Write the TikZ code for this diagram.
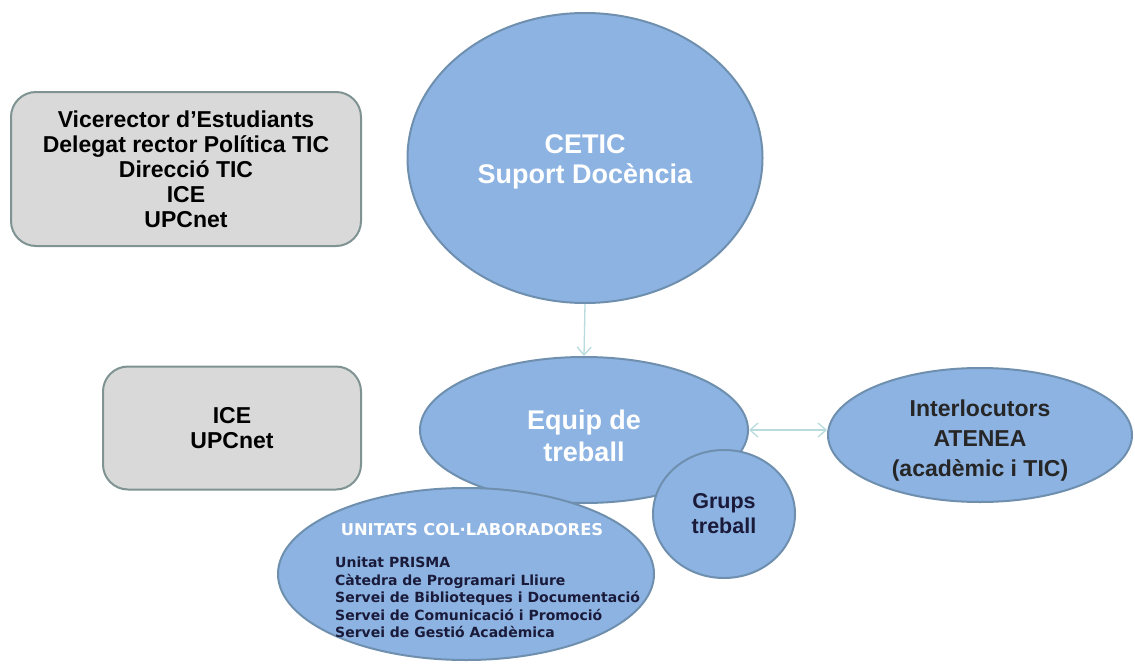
\documentclass[tikz,border=0pt]{standalone}
\usepackage{fontspec}
\setmainfont{Liberation Sans}
\newfontfamily\verd{DejaVu Sans}
\usetikzlibrary{shapes.geometric,arrows.meta}
\definecolor{bfill}{HTML}{8DB3E2}
\definecolor{bline}{HTML}{6F8FAF}
\definecolor{gfill}{HTML}{D9D9D9}
\definecolor{gline}{HTML}{7F9393}
\definecolor{arr}{HTML}{B8DCDE}
\definecolor{navy}{HTML}{1A1A3A}
\tikzset{
  x=1pt,y=-1pt,
  blob/.style={ellipse,draw=bline,line width=2pt,fill=bfill,inner sep=0pt,align=center,font=\bfseries},
  gbox/.style={rectangle,rounded corners=25pt,draw=gline,line width=2pt,fill=gfill,inner sep=0pt,align=center,font=\bfseries\fontsize{23}{25}\selectfont},
  conn/.style={draw=arr,line width=1.3pt},
}
\begin{document}
\begin{tikzpicture}
\useasboundingbox (0,0) rectangle (1135,669);
\fill[white] (0,0) rectangle (1135,669);
\node[gbox,minimum width=350pt,minimum height=154pt] (box1) at (186,169)
  {Vicerector d’Estudiants\\Delegat rector Política TIC\\Direcció TIC\\ICE\\UPCnet};
\node[gbox,minimum width=258pt,minimum height=123pt] (box2) at (232,428)
  {ICE\\UPCnet};
\node[blob,minimum width=355pt,minimum height=290pt,text=white,font=\bfseries\fontsize{27}{30}\selectfont] (cetic) at (585,158)
  {\rule{0pt}{26pt}CETIC\\Suport Docència};
\node[blob,minimum width=328pt,minimum height=146pt,text=white,font=\bfseries\fontsize{27}{32}\selectfont] (equip) at (584,430)
  {\rule{0pt}{32pt}Equip de\\treball};
\node[blob,minimum width=376pt,minimum height=172pt] (unitats) at (466,574) {};
\node[font=\verd\bfseries\fontsize{16.3}{18}\selectfont,text=white] (utitle) at (472,530) {UNITATS COL·LABORADORES};
\node[font=\verd\bfseries\fontsize{14}{17.5}\selectfont,text=navy,align=left,anchor=north west,inner sep=0pt] (ulist) at (335,557)
  {Unitat PRISMA\\Càtedra de Programari Lliure\\Servei de Biblioteques i Documentació\\Servei de Comunicació i Promoció\\Servei de Gestió Acadèmica};
\node[blob,minimum width=142pt,minimum height=128pt,text=navy,font=\bfseries\fontsize{21.5}{25}\selectfont] (grups) at (724,514)
  {Grups\\treball};
\node[blob,minimum width=304pt,minimum height=134pt,text=black!85,font=\bfseries\fontsize{23}{30}\selectfont] (inter) at (980,435)
  {\rule{0pt}{27pt}Interlocutors\\ATENEA\\(acadèmic i TIC)};
\draw[conn,-{Straight Barb[length=8pt,width=14pt]}] (cetic.south) -- (equip.north);
\draw[conn,{Straight Barb[length=8pt,width=14pt]}-{Straight Barb[length=8pt,width=14pt]}] (equip.east) -- (equip.east -| inter.west);
\end{tikzpicture}
\end{document}
